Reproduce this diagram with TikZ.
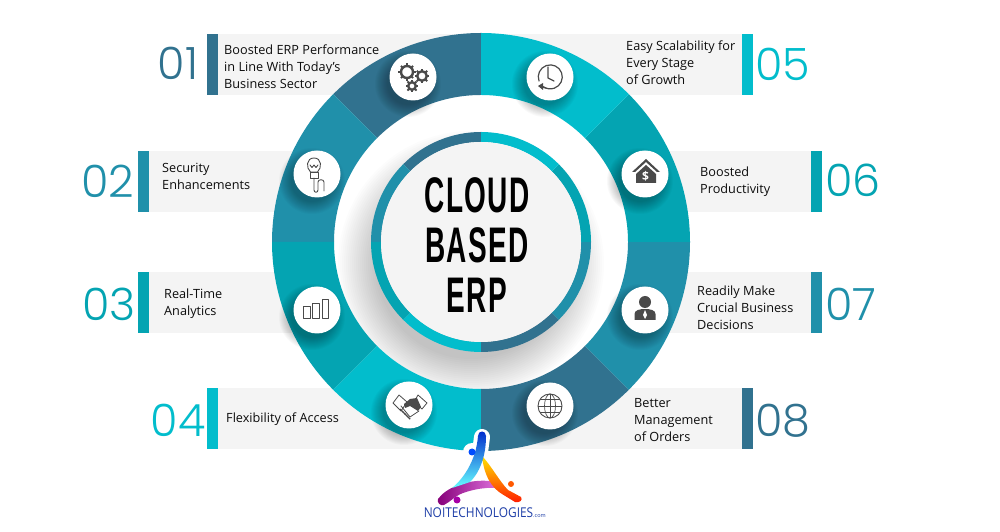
\documentclass[tikz,border=0pt]{standalone}
\usepackage{fontspec}
\usepackage{tikz}
\setmainfont{Open Sans}
\newfontfamily\numfont[UprightFont=* Light]{Poppins}
\newfontfamily\titlefont[FakeStretch=0.56,LetterSpace=2.5]{Liberation Sans Bold}
\definecolor{erpDark}{HTML}{31728F}
\definecolor{erpBlue}{HTML}{2090AA}
\definecolor{erpTeal}{HTML}{04A4B2}
\definecolor{erpCyan}{HTML}{02BDCC}
\definecolor{erpBand}{HTML}{F4F4F4}
\definecolor{erpIcon}{HTML}{4A4A4A}
\definecolor{logoNavy}{HTML}{1F3FA8}
\tikzset{
    itemtxt/.style={anchor=west, align=left, inner sep=0pt, text=black!95, font=\fontsize{12.7}{17}\selectfont},
    numtxt/.style={inner sep=0pt, font=\numfont\fontsize{44.5}{44.5}\selectfont},
    iconball/.style={circle, fill=white, minimum size=47pt, inner sep=0pt},
    iconline/.style={draw=erpIcon, line width=0.9pt, line cap=round, line join=round},
}
\begin{document}
\begin{tikzpicture}[x=1pt, y=1pt, >=latex]

    \useasboundingbox[fill=white] (0,0) rectangle (1000,532);

    % Grey bands and coloured bars
    \foreach \bx/\by/\ex/\col in {207/437/481/erpDark, 138/320/320/erpBlue, 138/199/320/erpTeal, 207/83/481/erpCyan} {
        \fill[erpBand] (\bx,\by) rectangle (\ex,\by+61);
        \fill[\col] (\bx,\by) rectangle (\bx+11,\by+61);
    }
    \foreach \bx/\by/\ex/\col in {753/437/481/erpCyan, 822/320/640/erpTeal, 822/199/640/erpBlue, 753/83/481/erpDark} {
        \fill[erpBand] (\bx,\by) rectangle (\ex,\by+61);
        \fill[\col] (\bx,\by) rectangle (\bx-11,\by+61);
    }

    % Big ring, inner ring and centre disc
    \begin{scope}[shift={(481,290)}]
        \fill[white] (0,0) circle (147);
        \begin{scope}
            \clip (0,0) circle (147);
            \foreach \r in {95,97,...,133} {
                \fill[black, opacity=0.013] (-10,-22) circle (\r);
            }
        \end{scope}
        \foreach \a/\col in {90/erpDark, 135/erpBlue, 180/erpTeal, 225/erpCyan, 270/erpDark, 315/erpBlue, 0/erpTeal, 45/erpCyan} {
            \fill[\col] (\a:209) arc (\a:\a+45:209) -- (\a+45:147) arc (\a+45:\a:147) -- cycle;
            \fill[\col] (\a:110) arc (\a:\a+45:110) -- (\a+45:100) arc (\a+45:\a:100) -- cycle;
        }
        \fill[erpBand] (0,0) circle (100);
    \end{scope}

    % Soft shadows, then the white balls
    \foreach \bx/\by in {413/455, 317/358, 317/222, 409/127, 550/455, 645/358, 645/222, 550/126} {
        \foreach \r in {21,22,...,33} {
            \fill[black, opacity=0.025] (\bx-5,\by-7) circle (\r);
        }
    }
    \foreach \n/\bx/\by in {1/413/455, 2/317/358, 3/317/222, 4/409/127, 5/550/455, 6/645/358, 7/645/222, 8/550/126} {
        \node[iconball] (ball\n) at (\bx,\by) {};
    }

    % Item labels
    \node[itemtxt] (item1) at (224,465) {Boosted ERP Performance\\in Line With Today’s\\Business Sector};
    \node[itemtxt] (item2) at (162,356) {Security\\Enhancements};
    \node[itemtxt] (item3) at (164,228.5) {Real-Time\\Analytics};
    \node[itemtxt] (item4) at (226,113) {Flexibility of Access};
    \node[itemtxt] (item5) at (626,469) {Easy Scalability for\\Every Stage\\of Growth};
    \node[itemtxt] (item6) at (700,350.5) {Boosted\\Productivity};
    \node[itemtxt] (item7) at (697,224) {Readily Make\\Crucial Business\\Decisions};
    \node[itemtxt] (item8) at (634,112) {Better\\Management\\of Orders};

    % Numbers
    \foreach \n/\nx/\ny/\col in {01/178/469/erpDark, 02/108/351/erpBlue, 03/109/228/erpTeal, 04/178/112/erpCyan, 05/783/468/erpCyan, 06/853/352/erpTeal, 07/851/228/erpBlue, 08/783/111/erpDark} {
        \node[numtxt, text=\col] (num\n) at (\nx,\ny) {\n};
    }

    % Title
    \node[align=center, inner sep=0pt, text=black, font=\titlefont\fontsize{50}{50}\selectfont] (title) at (477,287) {CLOUD\\BASED\\ERP};

    % Gears
    \foreach \gx/\gy/\gr in {407/460/6, 422/456/4.8, 412/446/3.8} {
        \draw[erpIcon, line width=2.4pt] (\gx,\gy) circle (\gr);
        \foreach \t in {0,45,...,315} {
            \draw[erpIcon, line width=1.9pt] (\gx,\gy) ++(\t:\gr) -- ++(\t:2.6);
        }
    }

    % Bulb with wire
    \draw[iconline] (310.5,360) .. controls (306,364) and (306,374) .. (314,374) .. controls (322,374) and (322,364) .. (317.5,360) -- (310.5,360);
    \draw[iconline] (310,360) rectangle (318,354);
    \draw[iconline] (310,367) -- (312,364.5) -- (314,367) -- (316,364.5) -- (318,367);
    \draw[iconline] (314,354) -- (314,342) .. controls (314,339) and (318,339) .. (318,342) -- (318,350) .. controls (318,353) and (324,353) .. (324,350) -- (324,341);

    % Bars
    \draw[iconline] (303,214) rectangle (310,226);
    \draw[iconline] (312.5,214) rectangle (319,229);
    \draw[iconline] (322,214) rectangle (328,233);

    % Handshake
    \draw[iconline, line width=0.8pt] (393,129) -- (399,137) -- (407,130) -- (401,121) -- cycle;
    \draw[iconline, line width=0.8pt] (418,137) -- (427,129) -- (422,123) -- (414,130) -- cycle;
    \fill[erpIcon] (404,128) -- (410,133) -- (417,134) -- (421,125) -- (418,121) -- (410,126) -- (405,124) -- cycle;
    \draw[iconline, line width=0.8pt] (401,126) -- (410,115) -- (419,121);
    \foreach \fx in {0,1,2,3} {
        \draw[erpIcon, line width=1.3pt] (400+\fx*2.4,123-\fx*2.4) -- +(3,-3);
    }

    % Clock
    \draw[iconline, line width=1.2pt] (539,451) arc (200:-125:12);
    \draw[iconline, line width=1.2pt] (541,445) -- (546,444);
    \fill[erpIcon] (538,446) -- (543,449) -- (543,442) -- cycle;
    \draw[iconline, line width=1.2pt] (548,465) -- (548,454) -- (554,451);

    % House with dollar
    \fill[erpIcon] (646,373) -- (660,360) -- (657,360) -- (646,370) -- (635,360) -- (632,360) -- cycle;
    \fill[erpIcon] (646,367) -- (656,358) -- (656,349) -- (636,349) -- (636,358) -- cycle;
    \node[inner sep=0pt, text=white, font=\bfseries\fontsize{12}{12}\selectfont] (dollar) at (645.5,356) {\$};

    % Person
    \fill[erpIcon] (645,230) circle (6);
    \fill[erpIcon] (634.5,212) -- (634.5,218) .. controls (634.5,222) and (640,223) .. (645,223) .. controls (650,223) and (655.5,222) .. (655.5,218) -- (655.5,212) -- cycle;
    \fill[white] (645,222) -- (647,217) -- (645,213) -- (643,217) -- cycle;

    % Globe
    \draw[erpIcon, line width=0.9pt] (550,126) circle (12);
    \draw[erpIcon, line width=0.7pt] (550,126) ellipse (5.5 and 12);
    \draw[erpIcon, line width=0.7pt] (550,114) -- (550,138);
    \draw[erpIcon, line width=0.7pt] (538,126) -- (562,126);
    \draw[erpIcon, line width=0.7pt] (540,132.5) -- (560,132.5);
    \draw[erpIcon, line width=0.7pt] (540,119.5) -- (560,119.5);

    % Logo halo
    \draw[white, line width=16pt, line cap=round] (482,95) -- (479,72);
    \fill[white] (472,80) circle (9);

    % Logo strokes and dots
    \shade[left color=purple!70!blue, right color=violet!35!magenta!50] (438,33) .. controls (446,44) and (466,53) .. (490,51) .. controls (497,50) and (502,47) .. (506,43) .. controls (495,45) and (480,45) .. (463,39) .. controls (455,36) and (450,30) .. (444,27) .. controls (440,26) and (437,29) .. (438,33) -- cycle;
    \shade[top color=yellow!80!orange, bottom color=red!80!orange] (482,76) .. controls (490,68) and (500,50) .. (508,42) -- (521,35) .. controls (523,32) and (520,29) .. (515,30) -- (502,38) .. controls (492,44) and (484,56) .. (482,76) -- cycle;
    \shade[top color=blue!80!cyan!80!black, bottom color=cyan!60] (478,96) .. controls (478,102) and (486,102) .. (486,96) .. controls (486,80) and (482,62) .. (470,50) -- (452,44) .. controls (462,52) and (476,70) .. (478,96) -- cycle;
    \fill[blue!70!cyan] (472,80) circle (3.5);
    \fill[orange!70!red] (511,48) circle (3);
    \fill[violet!70!magenta] (457,32) circle (3.5);

    % Logo text
    \node[inner sep=0pt, text=logoNavy, font=\fontsize{13.5}{13.5}\selectfont, xscale=0.88] (logo) at (478.5,19) {NOITECHNOLOGIES};
    \node[inner sep=0pt, text=logoNavy, font=\fontsize{5.5}{5.5}\selectfont] (logocom) at (539.5,15.5) {.com};

\end{tikzpicture}
\end{document}
